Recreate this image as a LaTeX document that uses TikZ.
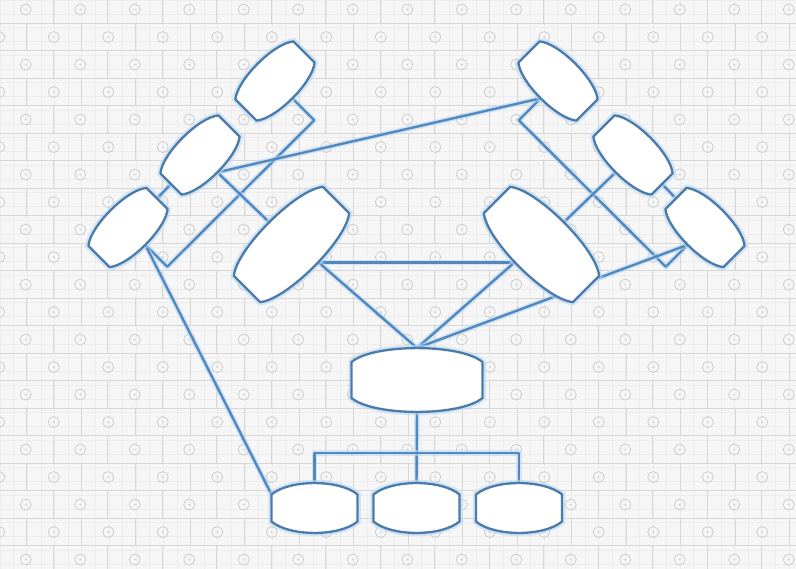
\documentclass[tikz,border=0pt]{standalone}
\usetikzlibrary{calc}
\definecolor{bgc}{RGB}{246,246,246}
\definecolor{gridc}{RGB}{237,237,237}
\definecolor{brick}{RGB}{214,214,214}
\definecolor{circ}{RGB}{204,204,204}
\definecolor{linec}{RGB}{82,136,192}
\definecolor{outc}{RGB}{76,122,170}
\definecolor{glow}{RGB}{185,218,245}
\begin{document}
\begin{tikzpicture}[x=1pt,y=1pt,
  hub/.style={draw=none, inner sep=0pt, outer sep=0pt, shape=rectangle},
  small/.style={hub, minimum width=82pt, minimum height=49pt},
  big/.style={hub, minimum width=126pt, minimum height=63pt},
  conn/.style={draw=linec, line width=2.4pt, line join=round,
    preaction={draw=glow, line width=5.5pt, draw opacity=0.55}},
  barrel/.style={draw=outc, fill=white, line width=2.3pt, line join=round,
    preaction={draw=glow, line width=6.5pt, draw opacity=0.6}},
]
\useasboundingbox (0,0) rectangle (796,-569);
% ---------- background ----------
\fill[bgc] (0,0) rectangle (796,-569);
\foreach \g in {0,...,59} {
  \draw[gridc, line width=0.4pt] (13.6*\g,0) -- (13.6*\g,-569);
}
\foreach \g in {0,...,42} {
  \draw[gridc, line width=0.4pt] (0,-13.75*\g) -- (796,-13.75*\g);
}
\foreach \r in {0,...,21} {
  \pgfmathsetmacro{\yt}{4.2-27.5*\r}
  \pgfmathsetmacro{\yb}{\yt-27.5}
  \pgfmathsetmacro{\ym}{\yt-13.75}
  \pgfmathsetmacro{\off}{mod(\r,2)==1 ? 26.5 : 53}
  \draw[brick, line width=1pt] (0,\yt) -- (796,\yt);
  \foreach \m in {-1,...,14} {
    \pgfmathsetmacro{\xx}{\off+54.5*\m}
    \draw[brick, line width=1pt] (\xx,\yt) -- (\xx,\yb);
    \draw[circ, line width=0.8pt] (\xx+27.25,\ym) circle (5.5pt);
    \fill[circ] (\xx+27.25,\ym) circle (1pt);
  }
}
% ---------- nodes (frames) ----------
\node[small, rotate=45] (A1) at (275,-81) {};
\node[small, rotate=45] (A2) at (200,-155) {};
\node[small, rotate=45] (A3) at (128,-227.5) {};
\node[big, rotate=45] (A4) at (291.5,-244.5) {};
\node[small, rotate=-45] (B1) at (558,-81) {};
\node[small, rotate=-45] (B2) at (633,-155) {};
\node[small, rotate=-45] (B3) at (705,-227.5) {};
\node[big, rotate=-45] (B4) at (541.5,-244.5) {};
\node[hub, minimum width=131pt, minimum height=64pt] (C) at (417,-380) {};
\node[hub, minimum width=86pt, minimum height=50pt] (D1) at (314.5,-508) {};
\node[hub, minimum width=86pt, minimum height=50pt] (D2) at (416.5,-508) {};
\node[hub, minimum width=86pt, minimum height=50pt] (D3) at (519,-508) {};
\coordinate (bus) at (416.5,-453);
% ---------- connectors ----------
\draw[conn] (A1.south) -- ($(A1.south)+(-45:31)$) -- ($(A3.south)+(-45:31)$) -- (A3.south);
\draw[conn] (B1.south) -- ($(B1.south)+(-135:31)$) -- ($(B3.south)+(-135:31)$) -- (B3.south);
\draw[conn] (A2.south) -- (B1.south);
\draw[conn] (A2.south) -- (A4.north);
\draw[conn] (A2.west) -- (A3.east);
\draw[conn] (B2.east) -- (B3.west);
\draw[conn] (B2.south) -- (B4.north);
\draw[conn] ($(A4.center)+(0,-18)$) -- ($(B4.center)+(0,-18)$);
\draw[conn] ($(A4.center)+(18,-10)$) -- (C.north);
\draw[conn] ($(B4.center)+(-18,-10)$) -- (C.north);
\draw[conn] ($(B4.center)+(20,-49.5)$) -- (C.north);
\draw[conn] ($(B4.center)+(45,-38)$) -- (B3.south);
\draw[conn] (A3.south) -- ($(D1.north west)!0.23!(D1.south west)$);
\draw[conn] (C.south) -- (D2.north);
\draw[conn] (D1.north) -- (D1.north |- bus) -- (D3.north |- bus) -- (D3.north);
% ---------- barrel shapes ----------
\foreach \n/\f/\l in {A1/0.194/0.614, A2/0.194/0.614, A3/0.194/0.614,
                      B1/0.194/0.614, B2/0.194/0.614, B3/0.194/0.614,
                      A4/0.206/0.546, B4/0.206/0.546, C/0.219/0.566,
                      D1/0.23/0.708, D2/0.23/0.708, D3/0.23/0.708} {
  \draw[barrel] ($(\n.north west)!\f!(\n.south west)$)
      to[bend left=40, looseness=\l] ($(\n.north east)!\f!(\n.south east)$)
      -- ($(\n.south east)!\f!(\n.north east)$)
      to[bend left=40, looseness=\l] ($(\n.south west)!\f!(\n.north west)$) -- cycle;
}
\end{tikzpicture}
\end{document}
